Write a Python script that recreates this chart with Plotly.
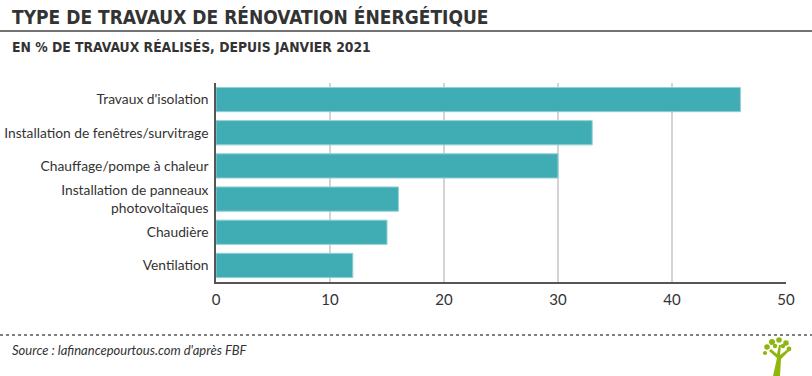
import plotly.graph_objects as go

categories = [
    "Travaux d'isolation",
    "Installation de fenêtres/survitrage",
    "Chauffage/pompe à chaleur",
    "Installation de panneaux<br>photovoltaïques",
    "Chaudière",
    "Ventilation",
]
values = [46, 33, 30, 16, 15, 12]
x_ticks = [0, 10, 20, 30, 40, 50]

W, H = 812, 376
L, R, T, B = 216, 26, 83, 94
PW, PH = W - L - R, H - T - B

def px(x):
    return (x - L) / PW

def py(y):
    return (H - B - y) / PH

fig = go.Figure(go.Bar(
    x=values, y=categories, orientation="h",
    marker=dict(color="#40acb4", line=dict(color="#8fd0d4", width=1)),
    width=0.73,
    hoverinfo="x+y",
))

fig.update_layout(
    width=W, height=H,
    margin=dict(l=L, r=R, t=T, b=B, autoexpand=False),
    paper_bgcolor="white", plot_bgcolor="white",
    font=dict(family="Lato, 'DejaVu Sans', sans-serif", color="#333333", size=13),
    showlegend=False,
    bargap=0.27,
)
fig.update_xaxes(
    range=[0, 50], tickvals=x_ticks, ticktext=[str(v) for v in x_ticks],
    showgrid=True, gridcolor="#d4d4d4", gridwidth=1.5,
    showline=True, linecolor="#555555", linewidth=1.5,
    zeroline=False, ticks="", tickfont=dict(size=15, color="#333333"),
    fixedrange=True, automargin=False, ticklabelstandoff=3,
)
fig.update_yaxes(
    categoryorder="array", categoryarray=categories[::-1],
    showline=True, linecolor="#555555", linewidth=1.5,
    ticks="", ticklen=0, tickfont=dict(size=13.8, color="#333333"),
    showgrid=False, fixedrange=True, automargin=False, ticklabelstandoff=3,
)

TF = "'DejaVu Sans Condensed', 'Liberation Sans Narrow', sans-serif"
fig.add_annotation(
    text="<b>TYPE DE TRAVAUX DE RÉNOVATION ÉNERGÉTIQUE</b>",
    xref="paper", yref="paper", x=px(10), y=py(17), xanchor="left", yanchor="middle",
    showarrow=False, font=dict(family=TF, size=19, color="#333333"),
)
fig.add_annotation(
    text="<b>EN % DE TRAVAUX RÉALISÉS, DEPUIS JANVIER 2021</b>",
    xref="paper", yref="paper", x=px(10), y=py(47), xanchor="left", yanchor="middle",
    showarrow=False, font=dict(family=TF, size=13.8, color="#333333"),
)
fig.add_shape(type="line", xref="paper", yref="paper",
              x0=px(0), x1=px(W), y0=py(31), y1=py(31),
              line=dict(color="#444444", width=1.5))
fig.add_shape(type="line", xref="paper", yref="paper",
              x0=px(0), x1=px(W), y0=py(335), y1=py(335),
              line=dict(color="#555555", width=1.5, dash="dot"))
fig.add_annotation(
    text="<i>Source : lafinancepourtous.com d'après FBF</i>",
    xref="paper", yref="paper", x=px(10), y=py(350), xanchor="left", yanchor="middle",
    showarrow=False, font=dict(family="Lato, sans-serif", size=13, color="#333333"),
)

# Logo (stylised tree)
green = "#8fb60f"
def P(x, y):
    return f"{px(x)},{py(y)}"
trunk = (f"M {P(773,376)} L {P(777,358)} L {P(769,351)} L {P(771,349)} L {P(777,354)} "
         f"L {P(779,345)} L {P(781,345)} L {P(780,355)} L {P(788,349)} L {P(789,351)} "
         f"L {P(781,359)} L {P(780,376)} Z")
fig.add_shape(type="path", xref="paper", yref="paper", path=trunk,
              fillcolor=green, line=dict(width=0))
for cx, cy, r in [(767, 347, 2.8), (772, 342, 3.0), (779, 340, 2.8), (786, 343, 2.8),
                  (789, 349, 2.4), (765, 353, 2.1), (775, 346, 2.2), (783, 346, 2.2)]:
    fig.add_shape(type="circle", xref="paper", yref="paper",
                  x0=px(cx - r), x1=px(cx + r), y0=py(cy + r), y1=py(cy - r),
                  fillcolor=green, line=dict(width=0))

fig.write_html("out.html", config={"displayModeBar": False},
               post_script="document.body.style.margin='0';document.body.style.overflow='hidden';")
